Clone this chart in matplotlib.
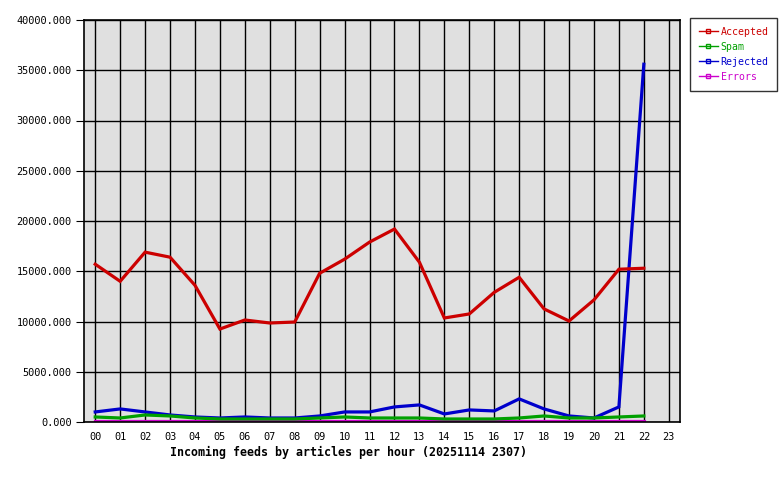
import matplotlib
matplotlib.use('Agg')
from matplotlib import pyplot as plt
from matplotlib.lines import Line2D

hours = ['%02d' % h for h in range(24)]
accepted = [15700, 14000, 16900, 16400, 13600, 9250, 10150, 9850, 9950, 14800,
            16200, 17900, 19200, 15900, 10350, 10750, 12900, 14400, 11250, 10050,
            12150, 15200, 15300]
spam = [500, 400, 700, 600, 400, 300, 300, 300, 300, 400, 500, 400, 400, 400,
        300, 300, 300, 400, 600, 400, 400, 500, 600]
rejected = [1000, 1300, 1000, 700, 500, 400, 500, 400, 400, 600, 1000, 1000,
            1500, 1700, 800, 1200, 1100, 2300, 1300, 600, 400, 1500, 35600]
errors = [100] * 23

series = [('Accepted', accepted, '#cc0000'),
          ('Spam', spam, '#00a000'),
          ('Rejected', rejected, '#0000cc'),
          ('Errors', errors, '#cc00cc')]

plt.rcParams['font.family'] = 'DejaVu Sans Mono'
plt.rcParams['font.size'] = 7.4

fig = plt.figure(figsize=(7.8, 4.8), dpi=100)
ax = fig.add_axes([84/780, 58/480, 596/780, 402/480])
ax.set_facecolor('#e0e0e0')

x = list(range(len(accepted)))
for name, vals, col in reversed(series):
    ax.plot(x, vals, color=col, linewidth=2.3, solid_joinstyle='miter')

ax.set_xlim(-0.45, 23.45)
ax.set_ylim(0, 40000)
ax.set_xticks(range(24))
ax.set_xticklabels(hours)
ax.set_yticks(range(0, 40001, 5000))
ax.set_yticklabels(['%d.000' % v for v in range(0, 40001, 5000)])
ax.grid(True, color='black', linewidth=1)
ax.set_axisbelow(True)
ax.tick_params(axis='x', length=0, pad=7)
ax.tick_params(axis='y', length=6, direction='out', pad=3)
for s in ax.spines.values():
    s.set_linewidth(1.2)

fig.text(349/780, 1 - 452/480, 'Incoming feeds by articles per hour (20251114 2307)',
         ha='center', va='center', fontweight='bold', fontsize=8.4)

handles = [Line2D([0], [0], color=col, linewidth=1, marker='s', markersize=3,
                  markerfacecolor='none', markeredgecolor=col)
           for name, vals, col in series]
leg = fig.legend(handles, [n for n, v, c in series], loc='upper left',
                 bbox_to_anchor=(690/780, 1 - 18/480), frameon=True,
                 fancybox=False, edgecolor='black', handlelength=1.9,
                 handletextpad=0.3, borderpad=0.9, labelspacing=0.5,
                 borderaxespad=0, fontsize=7.1)
leg.get_frame().set_linewidth(1)
for t, (name, vals, col) in zip(leg.get_texts(), series):
    t.set_color(col)

fig.savefig('out.png', dpi=100)
